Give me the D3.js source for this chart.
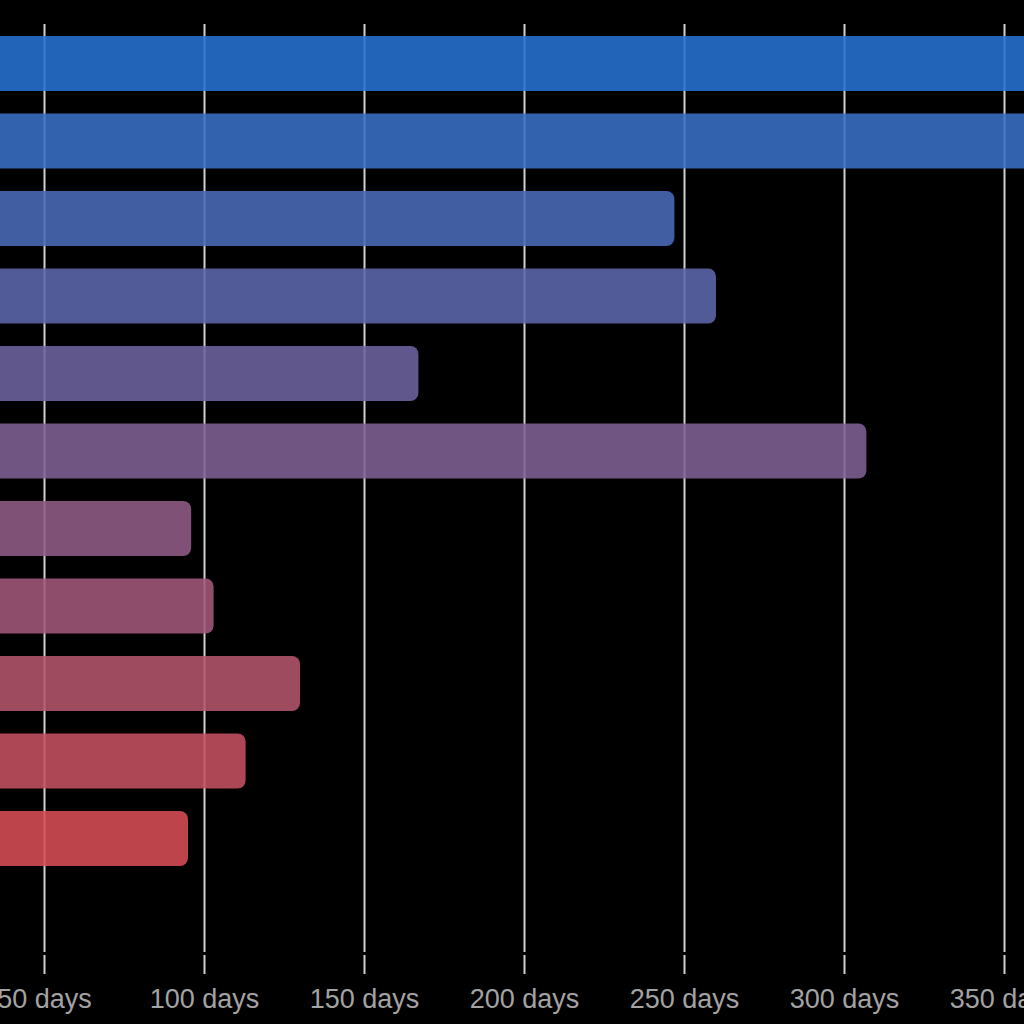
<!DOCTYPE html>
<html>
<head>
<meta charset="utf-8">
<script src="https://cdn.jsdelivr.net/npm/d3@7"></script>
<style>
  body { margin: 0; background: #000; }
  svg { display: block; }
  .axis text { font-family: "Liberation Sans", Arial, sans-serif; font-size: 27px; fill: #a3a3a3; }
</style>
</head>
<body>
<div id="chart"></div>
<script>
// chart data (first two bars run off the right edge)
const categories = ["A", "B", "C", "D", "E", "F", "G", "H", "I", "J", "K"];
const days = [365, 365, 247, 260, 167, 307, 96, 103, 130, 113, 95];
const tickValues = [50, 100, 150, 200, 250, 300, 350];

const width = 1024;
const height = 1024;

const svg = d3.select('#chart')
  .append('svg')
  .attr('width', width)
  .attr('height', height)
  .style('background', '#000');

// the picture is cropped: zero sits left of the frame
const xScale = d3.scaleLinear()
  .domain([0, 350])
  .range([-116, 1004]);

const yScale = d3.scaleBand()
  .domain(categories)
  .range([24.76, 877.26])
  .paddingInner(0.29)
  .paddingOuter(0.145);

const color = d3.scaleLinear()
  .domain([0, categories.length - 1])
  .range(['#2773d1', '#d74d54'])
  .interpolate(d3.interpolateRgb);

// grid lines
svg.append('g')
  .attr('transform', 'translate(0, 24)')
  .call(d3.axisBottom(xScale).tickValues(tickValues).tickSize(928).tickFormat(''))
  .call(g => g.select('.domain').remove())
  .call(g => g.selectAll('.tick line').attr('stroke', '#cfcfcf').attr('stroke-width', 2));

// bars
svg.append('g')
  .selectAll('rect')
  .data(days)
  .enter()
  .append('rect')
  .attr('x', xScale(0) - 20)
  .attr('y', (d, i) => yScale(categories[i]))
  .attr('width', d => xScale(d) - xScale(0) + 20)
  .attr('height', yScale.bandwidth())
  .attr('rx', 8)
  .attr('fill', (d, i) => color(i))
  .attr('fill-opacity', 0.88);

// ticks and labels
svg.append('g')
  .attr('class', 'axis')
  .attr('transform', 'translate(0, 955)')
  .call(d3.axisBottom(xScale)
    .tickValues(tickValues)
    .tickSize(19)
    .tickPadding(15)
    .tickFormat(d => d + ' days'))
  .call(g => g.select('.domain').remove())
  .call(g => g.selectAll('.tick line').attr('stroke', '#cfcfcf').attr('stroke-width', 2));
</script>
</body>
</html>
